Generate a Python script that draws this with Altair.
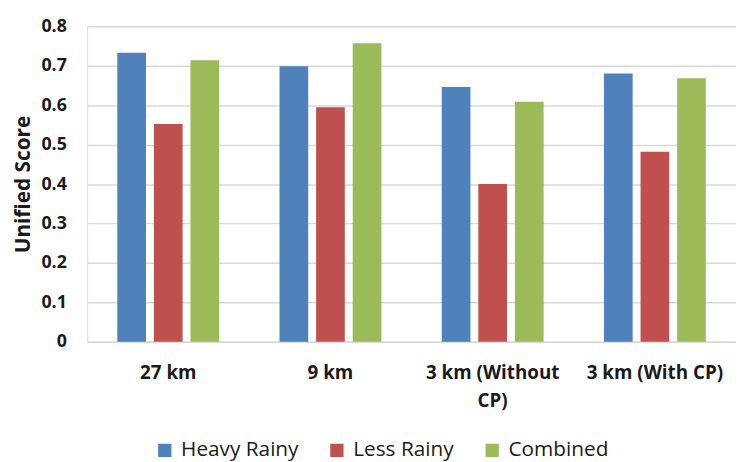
import altair as alt
import pandas as pd

categories = ["27 km", "9 km", "3 km (Without|CP)", "3 km (With CP)"]
series = ["Heavy Rainy", "Less Rainy", "Combined"]
heavy_rainy = [0.733, 0.699, 0.646, 0.680]
less_rainy = [0.552, 0.595, 0.400, 0.482]
combined = [0.714, 0.757, 0.609, 0.668]
colors = ["#4F81BD", "#C0504D", "#9BBB59"]

rows = []
for name, vals in zip(series, [heavy_rainy, less_rainy, combined]):
    for c, v in zip(categories, vals):
        rows.append({"cat": c, "series": name, "value": v})
df = pd.DataFrame(rows)

FONT = "Open Sans"

chart = alt.Chart(df).mark_bar().encode(
    x=alt.X("cat:N", sort=categories, title=None,
            scale=alt.Scale(paddingInner=0.372, paddingOuter=0.186),
            axis=alt.Axis(labelAngle=0, labelFont=FONT, labelFontSize=19, labelFontWeight="bold",
                          labelColor="#1a1a1a", labelPadding=22, labelLineHeight=28,
                          labelExpr="split(datum.label, '|')", ticks=False,
                          domainColor="#d9d9d9", domainWidth=1.5, labelBaseline="top")),
    xOffset=alt.XOffset("series:N", sort=series,
                        scale=alt.Scale(paddingInner=0.216, paddingOuter=0)),
    y=alt.Y("value:Q", title="Unified Score",
            scale=alt.Scale(domain=[0, 0.8], nice=False),
            axis=alt.Axis(values=[0, 0.1, 0.2, 0.3, 0.4, 0.5, 0.6, 0.7, 0.8], format="~g",
                          labelFont=FONT, labelFontSize=18, labelFontWeight="bold",
                          labelColor="#1a1a1a", labelPadding=21, ticks=False, domain=False,
                          gridColor="#d9d9d9", gridWidth=1.5,
                          titleFont=FONT, titleFontSize=21, titleFontWeight="bold",
                          titleColor="#1a1a1a", titlePadding=8)),
    color=alt.Color("series:N", sort=series,
                    scale=alt.Scale(domain=series, range=colors),
                    legend=alt.Legend(title=None, orient="none", direction="horizontal",
                                      legendX=68, legendY=418,
                                      symbolType="square", symbolSize=180, symbolStrokeWidth=0,
                                      labelFont=FONT, labelFontSize=21, labelColor="#1a1a1a",
                                      labelOffset=6, columnPadding=28)),
).properties(
    width=656,
    height=319,
    autosize=alt.AutoSizeParams(type="none"),
    padding={"left": 80, "top": 16, "right": 0, "bottom": 119},
).configure_view(stroke=None).configure(background="white")

chart.save("out.html", embed_options={"renderer": "svg", "actions": False})
